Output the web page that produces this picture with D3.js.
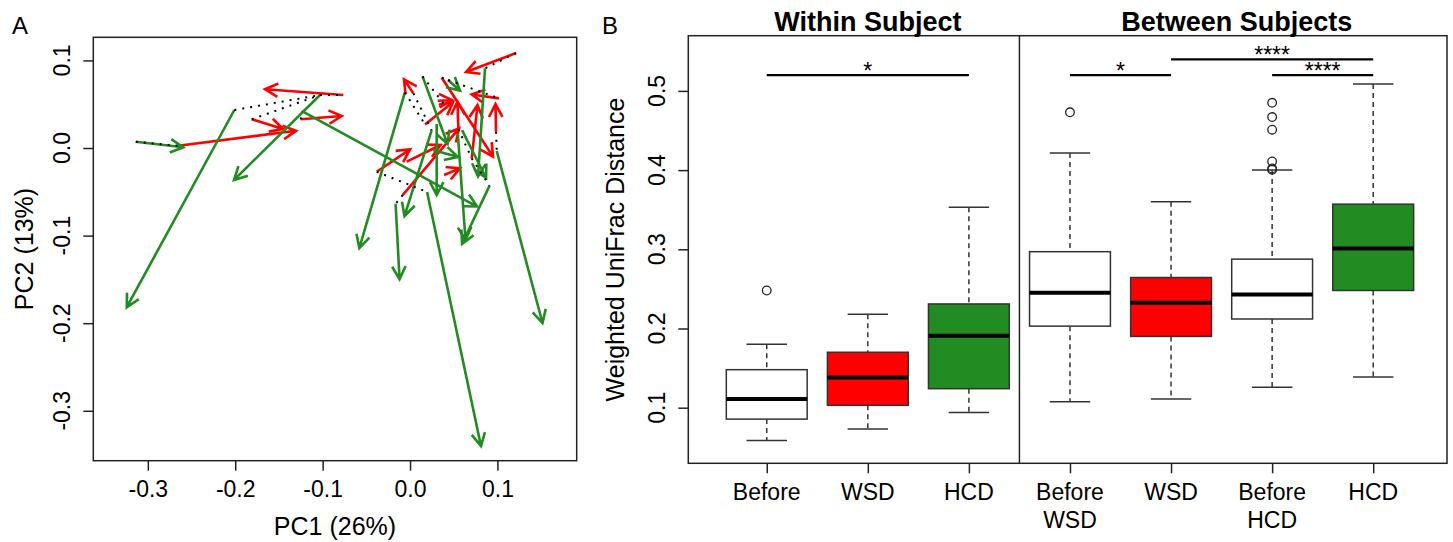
<!DOCTYPE html>
<html>
<head>
<meta charset="utf-8">
<script src="https://cdn.jsdelivr.net/npm/d3@7"></script>
<style>
  body { margin: 0; background: #fff; }
  text { font-family: "Liberation Sans", Arial, sans-serif; fill: #000; }
</style>
</head>
<body>
<svg id="chart"></svg>
<script>
const width = 1453;
const height = 542;

// ---- Panel A data: PCoA trajectories [x0, y0, x1, y1] ----
const redArrows = [
  [-0.2651, 0.0026, -0.1304, 0.0197],
  [-0.1811, 0.0328, -0.1453, 0.0217],
  [-0.0763, 0.0605, -0.1659, 0.0670],
  [-0.1251, 0.0328, -0.0781, 0.0365],
  [0.1213, 0.1084, 0.0641, 0.0868],
  [0.0038, 0.0624, -0.0069, 0.0784],
  [0.0363, 0.0803, 0.0950, -0.0099],
  [0.1018, 0.0567, 0.0706, 0.0611],
  [0.0984, 0.0186, 0.0978, 0.0502],
  [0.0706, -0.0118, 0.0772, 0.0491],
  [0.0553, 0.0217, 0.0543, 0.0529],
  [0.0172, 0.0268, 0.0492, 0.0525],
  [0.0317, 0.0540, 0.0481, 0.0548],
  [-0.0084, -0.0537, 0.0561, 0.0225],
  [-0.0038, -0.0156, 0.0349, 0.0034],
  [-0.0381, -0.0271, 0.0000, -0.0015],
  [0.0389, -0.0308, 0.0572, -0.0232]
];

const greenArrows = [
  [-0.2010, 0.0434, -0.3241, -0.1818],
  [-0.1030, 0.0605, -0.2014, -0.0365],
  [-0.3138, 0.0072, -0.2594, 0.0008],
  [-0.1236, 0.0422, 0.0767, -0.0668],
  [-0.0059, 0.0634, -0.0580, -0.1142],
  [-0.0165, -0.0636, -0.0120, -0.1498],
  [0.0195, -0.0502, 0.0812, -0.3402],
  [0.0992, -0.0034, 0.1516, -0.1998],
  [0.0910, -0.0430, 0.0595, -0.1096],
  [0.0858, 0.0910, 0.0778, -0.0325],
  [0.0305, 0.0274, 0.0305, -0.0537],
  [0.0248, 0.0205, -0.0063, -0.0776],
  [0.0546, 0.0171, 0.0635, -0.1050],
  [0.0143, 0.0818, 0.0429, 0.0046],
  [0.0435, 0.0776, 0.0572, 0.0656],
  [0.0263, -0.0023, 0.0549, -0.0103],
  [0.0595, 0.0205, 0.0870, -0.0342]
];

const dottedLinks = [
  [-0.3138, 0.0072, -0.2651, 0.0026],
  [-0.2010, 0.0434, -0.1030, 0.0605],
  [-0.1030, 0.0605, -0.0763, 0.0605],
  [-0.1811, 0.0328, -0.1030, 0.0605],
  [-0.1251, 0.0328, -0.1236, 0.0422],
  [0.1213, 0.1084, 0.0858, 0.0910],
  [-0.0059, 0.0634, 0.0172, 0.0268],
  [0.0038, 0.0624, 0.0248, 0.0205],
  [0.0143, 0.0818, 0.0389, 0.0502],
  [0.0435, 0.0776, 0.1018, 0.0567],
  [0.0984, 0.0186, 0.0992, -0.0034],
  [0.0553, 0.0217, 0.0706, -0.0118],
  [0.0706, -0.0118, 0.0910, -0.0430],
  [-0.0381, -0.0271, 0.0195, -0.0502],
  [-0.0084, -0.0537, -0.0165, -0.0636],
  [0.0363, 0.0803, 0.0435, 0.0776]
];

const pcTicksX = [-0.3, -0.2, -0.1, 0.0, 0.1];
const pcTicksY = [0.1, 0.0, -0.1, -0.2, -0.3];

// ---- Panel B data: boxplots ----
const groupLabels = [["Before"], ["WSD"], ["HCD"], ["Before", "WSD"], ["WSD"], ["Before", "HCD"], ["HCD"]];
const groupFills = ["#ffffff", "#ff0000", "#228b22", "#ffffff", "#ff0000", "#ffffff", "#228b22"];
const lowerWhisker = [0.0586, 0.073, 0.094, 0.1074, 0.111, 0.1257, 0.1388];
const q1 = [0.0856, 0.103, 0.124, 0.203, 0.190, 0.212, 0.248];
const medians = [0.111, 0.138, 0.191, 0.245, 0.2326, 0.243, 0.301];
const q3 = [0.148, 0.170, 0.231, 0.297, 0.2644, 0.2876, 0.357];
const upperWhisker = [0.180, 0.218, 0.353, 0.4215, 0.360, 0.400, 0.5087];
const outliers = [[0.248], [], [], [0.473], [], [0.485, 0.467, 0.451, 0.411, 0.402, 0.4005], []];
const distTicks = [0.1, 0.2, 0.3, 0.4, 0.5];
// significance brackets: [from group, to group, level, label]
const sigBars = [
  [1, 3, 0.520, "*"],
  [4, 5, 0.520, "*"],
  [5, 7, 0.5397, "****"],
  [6, 7, 0.520, "****"]
];

const svg = d3.select("#chart")
  .attr("width", width)
  .attr("height", height);

// =================== Panel A ===================
const ax = d3.scaleLinear().domain([-0.3624, 0.1907]).range([93.3, 576.7]);
const ay = d3.scaleLinear().domain([-0.357, 0.1264]).range([460.7, 37.3]);

const gA = svg.append("g");

gA.append("rect")
  .attr("x", ax.range()[0]).attr("y", ay.range()[1])
  .attr("width", ax.range()[1] - ax.range()[0])
  .attr("height", ay.range()[0] - ay.range()[1])
  .attr("fill", "none").attr("stroke", "#222").attr("stroke-width", 1.5);

// arrow path with open V head (R arrows style)
function arrowPath(d, sx, sy) {
  const x0 = sx(d[0]), y0 = sy(d[1]), x1 = sx(d[2]), y1 = sy(d[3]);
  const a = Math.atan2(y1 - y0, x1 - x0);
  const L = 14.5, ang = Math.PI / 6.5;
  const bx1 = x1 - L * Math.cos(a - ang), by1 = y1 - L * Math.sin(a - ang);
  const bx2 = x1 - L * Math.cos(a + ang), by2 = y1 - L * Math.sin(a + ang);
  return `M${x0},${y0}L${x1},${y1}M${bx1},${by1}L${x1},${y1}L${bx2},${by2}`;
}

gA.selectAll("path.red")
  .data(redArrows)
  .enter()
  .append("path")
  .attr("class", "red")
  .attr("d", d => arrowPath(d, ax, ay))
  .attr("fill", "none")
  .attr("stroke", "#ff0000")
  .attr("stroke-width", 2.6);

gA.selectAll("path.green")
  .data(greenArrows)
  .enter()
  .append("path")
  .attr("class", "green")
  .attr("d", d => arrowPath(d, ax, ay))
  .attr("fill", "none")
  .attr("stroke", "#228b22")
  .attr("stroke-width", 2.6);

gA.selectAll("line.dot")
  .data(dottedLinks)
  .enter()
  .append("line")
  .attr("class", "dot")
  .attr("x1", d => ax(d[0])).attr("y1", d => ay(d[1]))
  .attr("x2", d => ax(d[2])).attr("y2", d => ay(d[3]))
  .attr("stroke", "#000")
  .attr("stroke-width", 2)
  .attr("stroke-dasharray", "2,6");

// x axis A
const xAxisA = d3.axisBottom(ax).tickValues(pcTicksX).tickSize(10).tickPadding(10)
  .tickFormat(d3.format(".1f"));
const gxA = gA.append("g")
  .attr("transform", `translate(0,${ay.range()[0]})`)
  .call(xAxisA);
gxA.select(".domain").remove();
gxA.selectAll("line").attr("stroke", "#222").attr("stroke-width", 1.5);
gxA.selectAll("text").attr("font-size", 23).attr("font-family", "Liberation Sans, Arial, sans-serif")
  .text(d => d3.format(".1f")(d).replace("−", "-"));

// y axis A (rotated labels)
const yAxisA = d3.axisLeft(ay).tickValues(pcTicksY).tickSize(10).tickFormat("");
const gyA = gA.append("g")
  .attr("transform", `translate(${ax.range()[0]},0)`)
  .call(yAxisA);
gyA.select(".domain").remove();
gyA.selectAll("line").attr("stroke", "#222").attr("stroke-width", 1.5);
gA.selectAll("text.ytickA")
  .data(pcTicksY)
  .enter()
  .append("text")
  .attr("class", "ytickA")
  .attr("transform", d => `translate(70,${ay(d)}) rotate(-90)`)
  .attr("text-anchor", "middle")
  .attr("font-size", 23)
  .text(d => d3.format(".1f")(d).replace("−", "-"));

gA.append("text")
  .attr("x", (ax.range()[0] + ax.range()[1]) / 2)
  .attr("y", 535)
  .attr("text-anchor", "middle")
  .attr("font-size", 25)
  .text("PC1 (26%)");

gA.append("text")
  .attr("transform", `translate(33,${(ay.range()[0] + ay.range()[1]) / 2}) rotate(-90)`)
  .attr("text-anchor", "middle")
  .attr("font-size", 25)
  .text("PC2 (13%)");

svg.append("text").attr("x", 12).attr("y", 34).attr("font-size", 24).text("A");

// =================== Panel B ===================
const bx = d3.scaleLinear().domain([0.224, 7.73]).range([688.3, 1447]);
const by = d3.scaleLinear().domain([0.0298, 0.5697]).range([463.3, 35.7]);
const gB = svg.append("g");

gB.append("rect")
  .attr("x", bx.range()[0]).attr("y", by.range()[1])
  .attr("width", bx.range()[1] - bx.range()[0])
  .attr("height", by.range()[0] - by.range()[1])
  .attr("fill", "none").attr("stroke", "#222").attr("stroke-width", 1.5);

gB.append("line")
  .attr("x1", bx(3.5)).attr("x2", bx(3.5))
  .attr("y1", by.range()[1]).attr("y2", by.range()[0])
  .attr("stroke", "#222").attr("stroke-width", 1.5);

const idx = d3.range(groupLabels.length);
const boxes = gB.selectAll("g.box")
  .data(idx)
  .enter()
  .append("g")
  .attr("class", "box");

// whiskers (dashed)
boxes.append("line")
  .attr("x1", i => bx(i + 1)).attr("x2", i => bx(i + 1))
  .attr("y1", i => by(upperWhisker[i])).attr("y2", i => by(q3[i]))
  .attr("stroke", "#333").attr("stroke-width", 1.5).attr("stroke-dasharray", "5,4");
boxes.append("line")
  .attr("x1", i => bx(i + 1)).attr("x2", i => bx(i + 1))
  .attr("y1", i => by(q1[i])).attr("y2", i => by(lowerWhisker[i]))
  .attr("stroke", "#333").attr("stroke-width", 1.5).attr("stroke-dasharray", "5,4");
// caps
boxes.append("line")
  .attr("x1", i => bx(i + 0.8)).attr("x2", i => bx(i + 1.2))
  .attr("y1", i => by(upperWhisker[i])).attr("y2", i => by(upperWhisker[i]))
  .attr("stroke", "#333").attr("stroke-width", 1.5);
boxes.append("line")
  .attr("x1", i => bx(i + 0.8)).attr("x2", i => bx(i + 1.2))
  .attr("y1", i => by(lowerWhisker[i])).attr("y2", i => by(lowerWhisker[i]))
  .attr("stroke", "#333").attr("stroke-width", 1.5);
// box
boxes.append("rect")
  .attr("x", i => bx(i + 0.6))
  .attr("width", i => bx(i + 1.4) - bx(i + 0.6))
  .attr("y", i => by(q3[i]))
  .attr("height", i => by(q1[i]) - by(q3[i]))
  .attr("fill", i => groupFills[i])
  .attr("stroke", "#333").attr("stroke-width", 1.5);
// median
boxes.append("line")
  .attr("x1", i => bx(i + 0.6)).attr("x2", i => bx(i + 1.4))
  .attr("y1", i => by(medians[i])).attr("y2", i => by(medians[i]))
  .attr("stroke", "#000").attr("stroke-width", 4);
// outliers
boxes.selectAll("circle")
  .data(i => outliers[i].map(v => [i, v]))
  .enter()
  .append("circle")
  .attr("cx", d => bx(d[0] + 1))
  .attr("cy", d => by(d[1]))
  .attr("r", 4.3)
  .attr("fill", "none")
  .attr("stroke", "#222")
  .attr("stroke-width", 1.3);

// significance bars
gB.selectAll("line.sig")
  .data(sigBars)
  .enter()
  .append("line")
  .attr("class", "sig")
  .attr("x1", d => bx(d[0])).attr("x2", d => bx(d[1]))
  .attr("y1", d => by(d[2])).attr("y2", d => by(d[2]))
  .attr("stroke", "#000").attr("stroke-width", 2.2);
gB.selectAll("text.sig")
  .data(sigBars)
  .enter()
  .append("text")
  .attr("class", "sig")
  .attr("x", d => bx((d[0] + d[1]) / 2))
  .attr("y", d => by(d[2]) + 4)
  .attr("text-anchor", "middle")
  .attr("font-size", 23)
  .text(d => d[3]);

// y axis B
const yAxisB = d3.axisLeft(by).tickValues(distTicks).tickSize(10).tickFormat("");
const gyB = gB.append("g")
  .attr("transform", `translate(${bx.range()[0]},0)`)
  .call(yAxisB);
gyB.select(".domain").remove();
gyB.selectAll("line").attr("stroke", "#222").attr("stroke-width", 1.5);
gB.selectAll("text.ytickB")
  .data(distTicks)
  .enter()
  .append("text")
  .attr("class", "ytickB")
  .attr("transform", d => `translate(665,${by(d)}) rotate(-90)`)
  .attr("text-anchor", "middle")
  .attr("font-size", 23)
  .text(d => d3.format(".1f")(d));

// x axis B
const xAxisB = d3.axisBottom(bx).tickValues(idx.map(i => i + 1)).tickSize(10).tickFormat("");
const gxB = gB.append("g")
  .attr("transform", `translate(0,${by.range()[0]})`)
  .call(xAxisB);
gxB.select(".domain").remove();
gxB.selectAll("line").attr("stroke", "#222").attr("stroke-width", 1.5);
const xl = gB.selectAll("text.xlabB")
  .data(idx)
  .enter()
  .append("text")
  .attr("class", "xlabB")
  .attr("text-anchor", "middle")
  .attr("font-size", 23);
xl.selectAll("tspan")
  .data(i => groupLabels[i].map((s, k) => [i, s, k]))
  .enter()
  .append("tspan")
  .attr("x", d => bx(d[0] + 1))
  .attr("y", d => 500 + d[2] * 28)
  .text(d => d[1]);

gB.append("text")
  .attr("transform", `translate(624,${(by.range()[0] + by.range()[1]) / 2}) rotate(-90)`)
  .attr("text-anchor", "middle")
  .attr("font-size", 25)
  .text("Weighted UniFrac Distance");

gB.append("text")
  .attr("x", bx(2)).attr("y", 31)
  .attr("text-anchor", "middle")
  .attr("font-size", 27).attr("font-weight", "bold")
  .text("Within Subject");
gB.append("text")
  .attr("x", bx(5.65)).attr("y", 31)
  .attr("text-anchor", "middle")
  .attr("font-size", 27).attr("font-weight", "bold")
  .text("Between Subjects");

svg.append("text").attr("x", 602).attr("y", 34).attr("font-size", 24).text("B");
</script>
</body>
</html>
